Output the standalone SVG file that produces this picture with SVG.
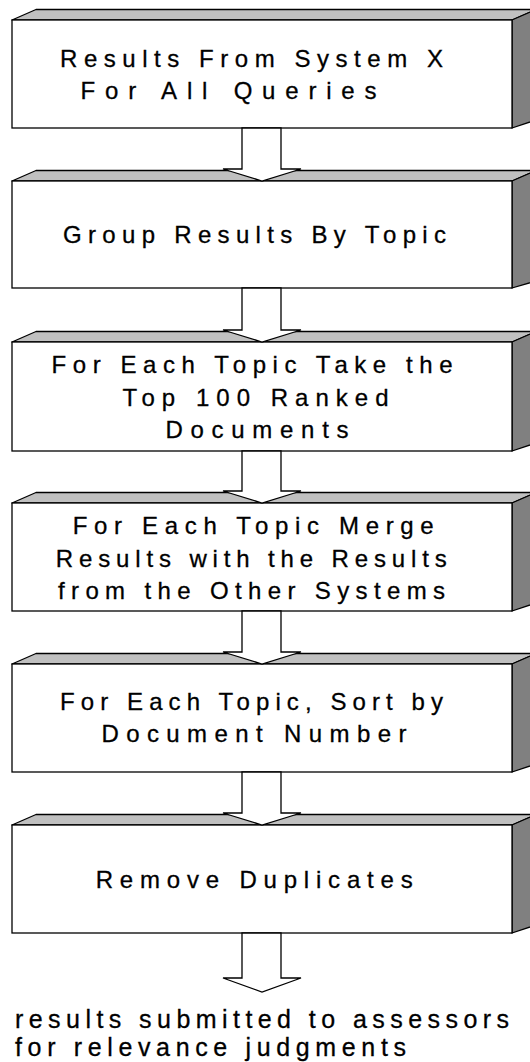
<svg xmlns="http://www.w3.org/2000/svg" width="530" height="1062" viewBox="0 0 530 1062">
<style>
.front{fill:#ffffff;stroke:#000;stroke-width:1.3}
.topf{fill:#c0c0c0;stroke:#000;stroke-width:1.3;stroke-linejoin:round}
.side{fill:#808080;stroke:#000;stroke-width:1.3;stroke-linejoin:round}
.t{font-family:"Liberation Sans",Arial,sans-serif;font-size:24px;fill:#000;stroke:#000;stroke-width:0.3}
.ft{font-family:"Liberation Sans",Arial,sans-serif;font-size:25px;fill:#000;stroke:#000;stroke-width:0.3}
.arrow{fill:#ffffff;stroke:#000;stroke-width:1.3;stroke-linejoin:miter}
</style>
<rect width="530" height="1062" fill="#ffffff"/>
<g id="box1">
<polygon class="topf" points="12,20 36,9.5 536,9.5 512,20"/>
<polygon class="side" points="512,20 536,9.5 536,120 512,128"/>
<rect class="front" x="12" y="20" width="500" height="108"/>
<text class="t" x="60" y="67" textLength="383" lengthAdjust="spacing">Results From System X</text>
<text class="t" x="80.5" y="99" textLength="296" lengthAdjust="spacing">For All Queries</text>
</g>
<g id="box2">
<polygon class="topf" points="12,181 36,170.5 536,170.5 512,181"/>
<polygon class="side" points="512,181 536,170.5 536,281 512,288"/>
<rect class="front" x="12" y="181" width="500" height="107"/>
<text class="t" x="63" y="243" textLength="383" lengthAdjust="spacing">Group Results By Topic</text>
</g>
<g id="box3">
<polygon class="topf" points="12,342 36,331.5 536,331.5 512,342"/>
<polygon class="side" points="512,342 536,331.5 536,443 512,451"/>
<rect class="front" x="12" y="342" width="500" height="109"/>
<text class="t" x="51.5" y="373" textLength="401" lengthAdjust="spacing">For Each Topic Take the</text>
<text class="t" x="122.5" y="406" textLength="266" lengthAdjust="spacing">Top 100 Ranked</text>
<text class="t" x="165.5" y="438" textLength="183" lengthAdjust="spacing">Documents</text>
</g>
<g id="box4">
<polygon class="topf" points="12,503 36,492.5 536,492.5 512,503"/>
<polygon class="side" points="512,503 536,492.5 536,603 512,611"/>
<rect class="front" x="12" y="503" width="500" height="108"/>
<text class="t" x="72.7" y="534" textLength="361" lengthAdjust="spacing">For Each Topic Merge</text>
<text class="t" x="55.8" y="566.5" textLength="391" lengthAdjust="spacing">Results with the Results</text>
<text class="t" x="58" y="598.5" textLength="387" lengthAdjust="spacing">from the Other Systems</text>
</g>
<g id="box5">
<polygon class="topf" points="12,664 36,653.5 536,653.5 512,664"/>
<polygon class="side" points="512,664 536,653.5 536,764 512,772"/>
<rect class="front" x="12" y="664" width="500" height="108"/>
<text class="t" x="60" y="709.5" textLength="383" lengthAdjust="spacing">For Each Topic, Sort by</text>
<text class="t" x="101.4" y="741.5" textLength="305" lengthAdjust="spacing">Document Number</text>
</g>
<g id="box6">
<polygon class="topf" points="12,825 36,814.5 536,814.5 512,825"/>
<polygon class="side" points="512,825 536,814.5 536,925 512,933"/>
<rect class="front" x="12" y="825" width="500" height="108"/>
<text class="t" x="95.7" y="888" textLength="317" lengthAdjust="spacing">Remove Duplicates</text>
</g>
<g id="connectors">
<polygon class="arrow" points="242,128 281,128 281,169 301,169 262,181 223,169 242,169"/>
<polygon class="arrow" points="242,288 281,288 281,330 301,330 262,342 223,330 242,330"/>
<polygon class="arrow" points="242,451 281,451 281,491 301,491 262,503 223,491 242,491"/>
<polygon class="arrow" points="242,611 281,611 281,652 301,652 262,664 223,652 242,652"/>
<polygon class="arrow" points="242,772 281,772 281,813 301,813 262,825 223,813 242,813"/>
<polygon class="arrow" points="242,933 281,933 281,978 301,978 262,992 223,978 242,978"/>
</g>
<g id="output-label">
<text class="ft" x="15" y="1028" textLength="494" lengthAdjust="spacing">results submitted to assessors</text>
<text class="ft" x="15" y="1056" textLength="391" lengthAdjust="spacing">for relevance judgments</text>
</g>
</svg>
